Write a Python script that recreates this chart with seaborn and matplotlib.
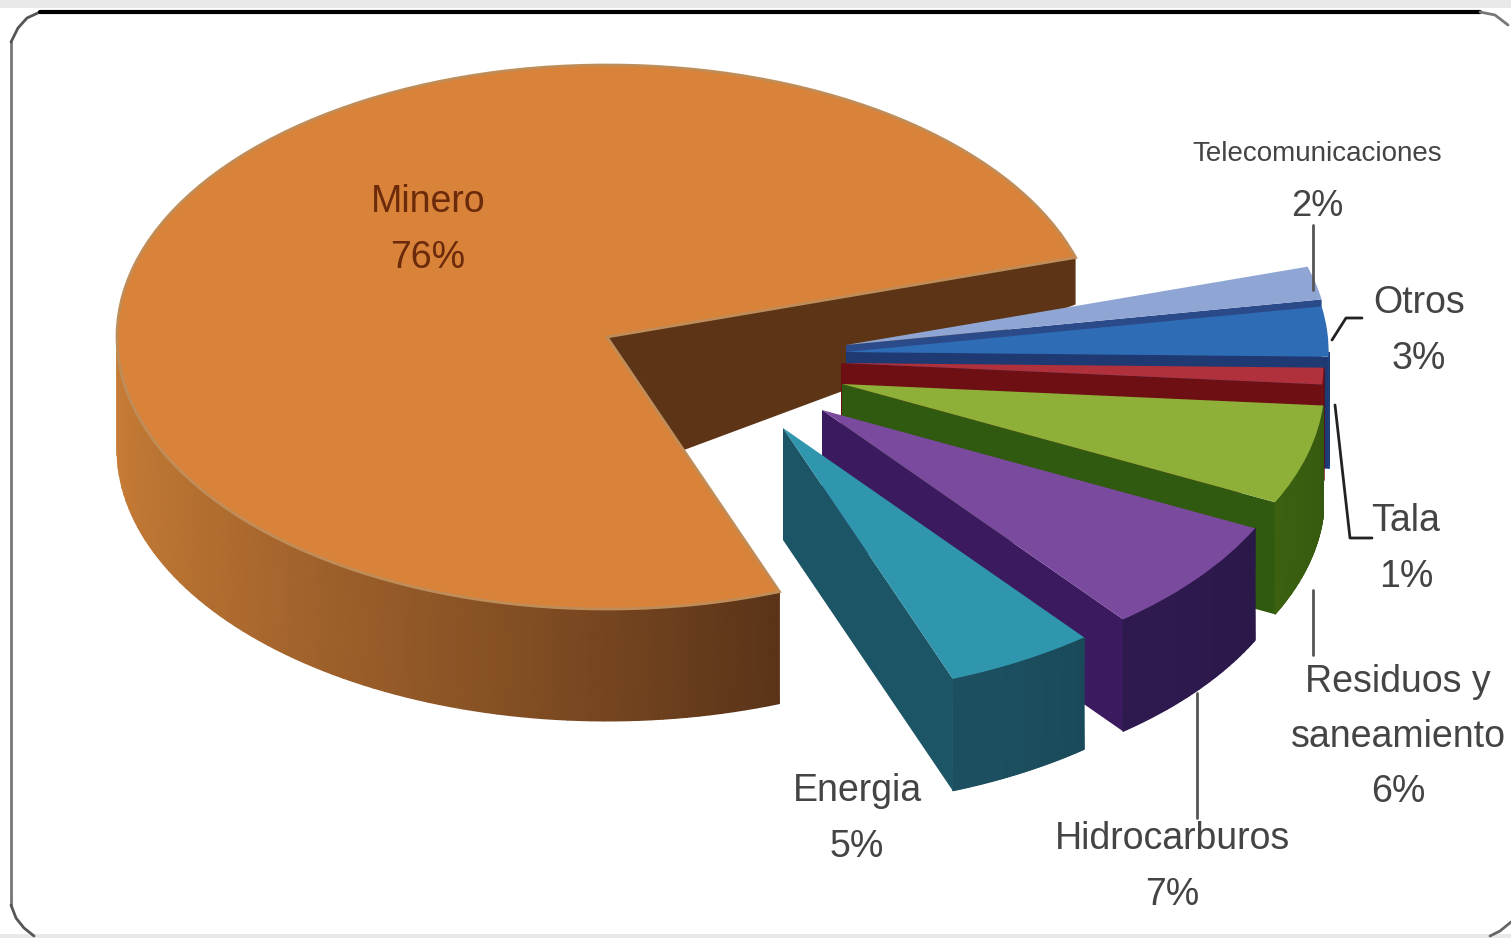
import numpy as np
import matplotlib
matplotlib.use("Agg")
import matplotlib.pyplot as plt
from matplotlib.patches import Rectangle
from matplotlib.colors import to_rgb
import seaborn as sns

# -----------------------------
# Data
# -----------------------------
categories = ["Minero", "Energia", "Hidrocarburos", "Residuos y\nsaneamiento", "Tala", "Otros", "Telecomunicaciones"]
values = [76, 5, 7, 6, 1, 3, 2]

top_colors = ["#d8823a", "#2f96ad", "#7a4a9e", "#8fb038", "#b0303c", "#2e6db5", "#8fa6d4"]
wall_colors = ["#5e3416", "#1c5566", "#3c1a60", "#305a0f", "#6e0f14", "#1f3a72", "#2a4a8a"]
rim_left = ["#c87d36", "#1c5060", "#2f1a50", "#3a6010", "#7a1518", "#1f4f90", "#5a6fa8"]
rim_right = ["#5a3318", "#1a4a5a", "#2a1848", "#35580f", "#6a1015", "#1f3f78", "#4a5f98"]

# -----------------------------
# Layout (pixels of the 1511x938 picture)
# -----------------------------
W, H = 1511, 938
CX, CY = 607, 337
RX, RY = 490, 272
DEPTH = 112 / RY

# where each slice's apex ended up after the explosion
apex_px = [(607, 337), (783, 428), (822, 410), (842, 384), (841, 363), (846, 352), (846, 345)]
label_px = [(428, 230), (857, 819), (1172, 867), (1398, 737), (1406, 549), (1419, 331), (1317, 178)]
leaders_px = [
    [(1197, 693), (1197, 818)],
    [(1313, 590), (1313, 655)],
    [(1335, 405), (1350, 538), (1372, 538)],
    [(1332, 340), (1346, 318), (1362, 318)],
    [(1313, 225), (1313, 290)],
]
leader_colors = ["#555555", "#555555", "#222222", "#222222", "#555555"]


def px(x, y):
    return (x - CX) / RX, (CY - y) / RY


sns.set_theme(style="white")
plt.rcParams["font.family"] = ["Liberation Sans", "DejaVu Sans"]

fig = plt.figure(figsize=(W / 100, H / 100), dpi=100, facecolor="white")
ax = fig.add_axes([0, 0, 1, 1])

wedges, _ = ax.pie(values, colors=top_colors, startangle=17, counterclock=True,
                   explode=[0, .48, .48, .48, .48, .48, .48], radius=1)
ax.set_aspect("auto")
ax.set_xlim(px(0, 0)[0], px(W, 0)[0])
ax.set_ylim(px(0, H)[1], px(0, 0)[1])
ax.axis("off")


def draw_rim(w, z, left, right):
    # outer wall, only the part facing the viewer
    a, b = w.theta1 % 360, w.theta2 % 360
    if b <= a:
        b += 360
    a, b = max(a, 180), min(b, 360)
    if b <= a:
        return
    t = np.radians(np.linspace(a, b, 80))
    x = w.center[0] + w.r * np.cos(t)
    y = w.center[1] + w.r * np.sin(t)
    X = np.vstack([x, x])
    Y = np.vstack([y, y - DEPTH])
    f = np.linspace(0, 1, len(t))[:, None] ** 1.4
    row = (1 - f) * np.array(to_rgb(left)) + f * np.array(to_rgb(right))
    ax.pcolormesh(X, Y, np.stack([row, row]), shading="gouraud", zorder=z)


for i, w in enumerate(wedges):
    # back to front: big slice, then Telecomunicaciones round to Energia
    z = 10 if i == 0 else 10 * (len(wedges) - i + 1)
    w.set_center(px(*apex_px[i]))
    w.set_linewidth(0)
    if i > 0:
        w.set_radius(0.985)
    w.set_zorder(z + 3)
    draw_rim(w, z + 2, rim_left[i], rim_right[i])

    t = np.radians(w.theta1)
    tip = (w.center[0] + w.r * np.cos(t), w.center[1] + w.r * np.sin(t))
    if i == 0:
        # the back wall of the big slice is shallower, its foot runs under the top face
        bottom_tip = (tip[0], tip[1] - 47 / RY)
        bottom_apex = px(684, 450)
    else:
        bottom_tip = (tip[0], tip[1] - DEPTH)
        bottom_apex = (w.center[0], w.center[1] - DEPTH)
    ax.fill([w.center[0], tip[0], bottom_tip[0], bottom_apex[0]],
            [w.center[1], tip[1], bottom_tip[1], bottom_apex[1]],
            color=wall_colors[i], lw=0, zorder=z + 1)

# soft rim on the edge of the big slice
wedges[0].set_edgecolor("#c08d58")
wedges[0].set_linewidth(2)

# -----------------------------
# Labels
# -----------------------------
for i, (name, val) in enumerate(zip(categories, values)):
    xy = px(*label_px[i])
    color = "#6b2a0a" if i == 0 else "#444444"
    if name.startswith("Tele"):
        # the long name is set smaller than its percentage
        ax.text(xy[0], px(0, 154)[1], name, ha="center", va="center", fontsize=20, color=color, zorder=200)
        ax.text(xy[0], px(0, 207)[1], f"{val}%", ha="center", va="center", fontsize=26, color=color, zorder=200)
    else:
        ax.text(xy[0], xy[1], f"{name}\n{val}%", ha="center", va="center", multialignment="center",
                fontsize=27, linespacing=1.68, color=color, zorder=200)

for pts, c in zip(leaders_px, leader_colors):
    xs, ys = zip(*[px(*p) for p in pts])
    ax.plot(xs, ys, color=c, lw=2, zorder=150)

# -----------------------------
# Frame: the right side of the rounded box is missing in the picture
# -----------------------------
frame_lines = [
    ([11, 11], [42, 905], "#777777", 2),
    ([11, 18, 27, 40], [42, 28, 18, 12], "#555555", 2),
    ([11, 16, 24, 34], [905, 918, 928, 936], "#555555", 2),
    ([40, 1480], [12, 12], "black", 3),
    ([1480, 1495, 1508], [12, 15, 25], "#777777", 2),
    ([1490, 1500, 1511], [936, 931, 922], "#666666", 2),
]
fig.add_artist(Rectangle((0, (H - 8) / H), 1, 8 / H, transform=fig.transFigure, fc="#e9e9e9", ec="none"))
fig.add_artist(Rectangle((0, 0), 1, 4 / H, transform=fig.transFigure, fc="#e9e9e9", ec="none"))
for xs, ys, c, lw in frame_lines:
    fig.add_artist(plt.Line2D([x / W for x in xs], [(H - y) / H for y in ys], color=c, lw=lw,
                              transform=fig.transFigure))

fig.savefig("out.png", dpi=100, facecolor="white")
